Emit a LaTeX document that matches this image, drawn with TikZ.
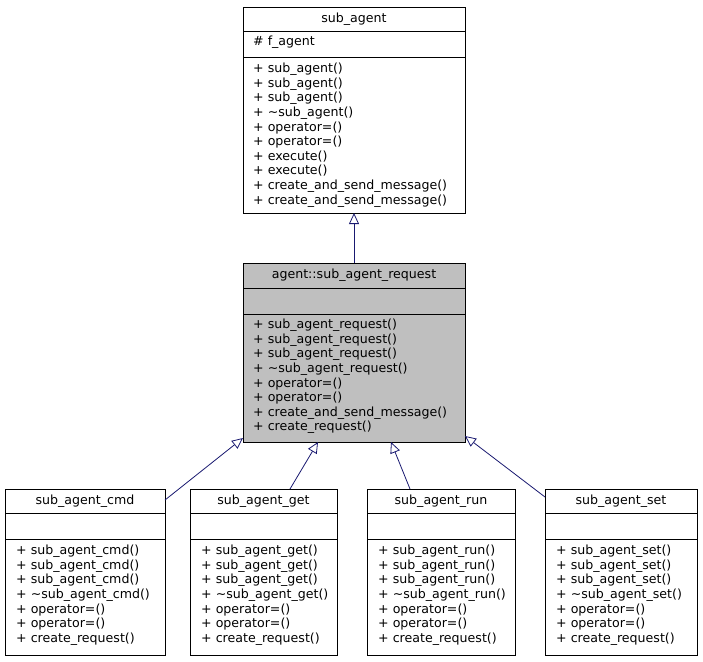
\documentclass[tikz,border=0pt]{standalone}
\usepackage{fontspec}
\setmainfont{DejaVu Sans}
\usetikzlibrary{arrows.meta}
\begin{document}
\begin{tikzpicture}[x=1pt,y=-1pt,
  box/.style={draw=black,line width=0.8pt},
  ttl/.style={font=\fontsize{12.6}{14}\selectfont,anchor=center,inner sep=0},
  mth/.style={font=\fontsize{12.6}{14.6}\selectfont,anchor=north west,align=left,inner sep=0},
  inh/.style={draw=midnightblue,line width=0.8pt,-{Triangle[open,length=11pt,width=10pt]}}]
\definecolor{midnightblue}{RGB}{25,25,112}
\useasboundingbox (0,0) rectangle (703,661);
% top
\draw[box] (243,7) rectangle (465,213);
\draw[box] (243,31) -- (465,31) (243,57) -- (465,57);
\node[ttl] (top) at (354,19) {sub\_agent};
\node[mth] at (253,36) {\# f\_agent};
\node[mth] at (253,63) {+ sub\_agent()\\+ sub\_agent()\\+ sub\_agent()\\+ \textasciitilde sub\_agent()\\+ operator=()\\+ operator=()\\+ execute()\\+ execute()\\+ create\_and\_send\_message()\\+ create\_and\_send\_message()};
\coordinate (topb) at (354,213);
% middle
\draw[box,fill={rgb,255:red,191;green,191;blue,191}] (243,263) rectangle (465,442);
\draw[box] (243,288) -- (465,288) (243,314) -- (465,314);
\node[ttl] (mid) at (354,275) {agent::sub\_agent\_request};
\node[mth] at (253,319) {+ sub\_agent\_request()\\+ sub\_agent\_request()\\+ sub\_agent\_request()\\+ \textasciitilde sub\_agent\_request()\\+ operator=()\\+ operator=()\\+ create\_and\_send\_message()\\+ create\_request()};
\coordinate (midt) at (354,263);
\draw[inh] (midt) -- (topb);
% bottom boxes
\foreach \xa/\xb/\nm/\id in {5/165/cmd/a,190/337/get/b,367/515/run/c,545/697/set/d}{
  \draw[box] (\xa,489) rectangle (\xb,655);
  \draw[box] (\xa,513) -- (\xb,513) (\xa,539) -- (\xb,539);
  \node[ttl] (\id) at ({(\xa+\xb)/2},501) {sub\_agent\_\nm};
  \node[mth] at (\xa+11,545) {+ sub\_agent\_\nm()\\+ sub\_agent\_\nm()\\+ sub\_agent\_\nm()\\+ \textasciitilde sub\_agent\_\nm()\\+ operator=()\\+ operator=()\\+ create\_request()};
}
\coordinate (a1) at (165,500); \coordinate (a2) at (243,438);
\coordinate (b1) at (290,489); \coordinate (b2) at (318,442);
\coordinate (c1) at (410,489); \coordinate (c2) at (391,442);
\coordinate (d1) at (545,497); \coordinate (d2) at (465,436);
\draw[inh] (a1) -- (a2);
\draw[inh] (b1) -- (b2);
\draw[inh] (c1) -- (c2);
\draw[inh] (d1) -- (d2);
\end{tikzpicture}
\end{document}
